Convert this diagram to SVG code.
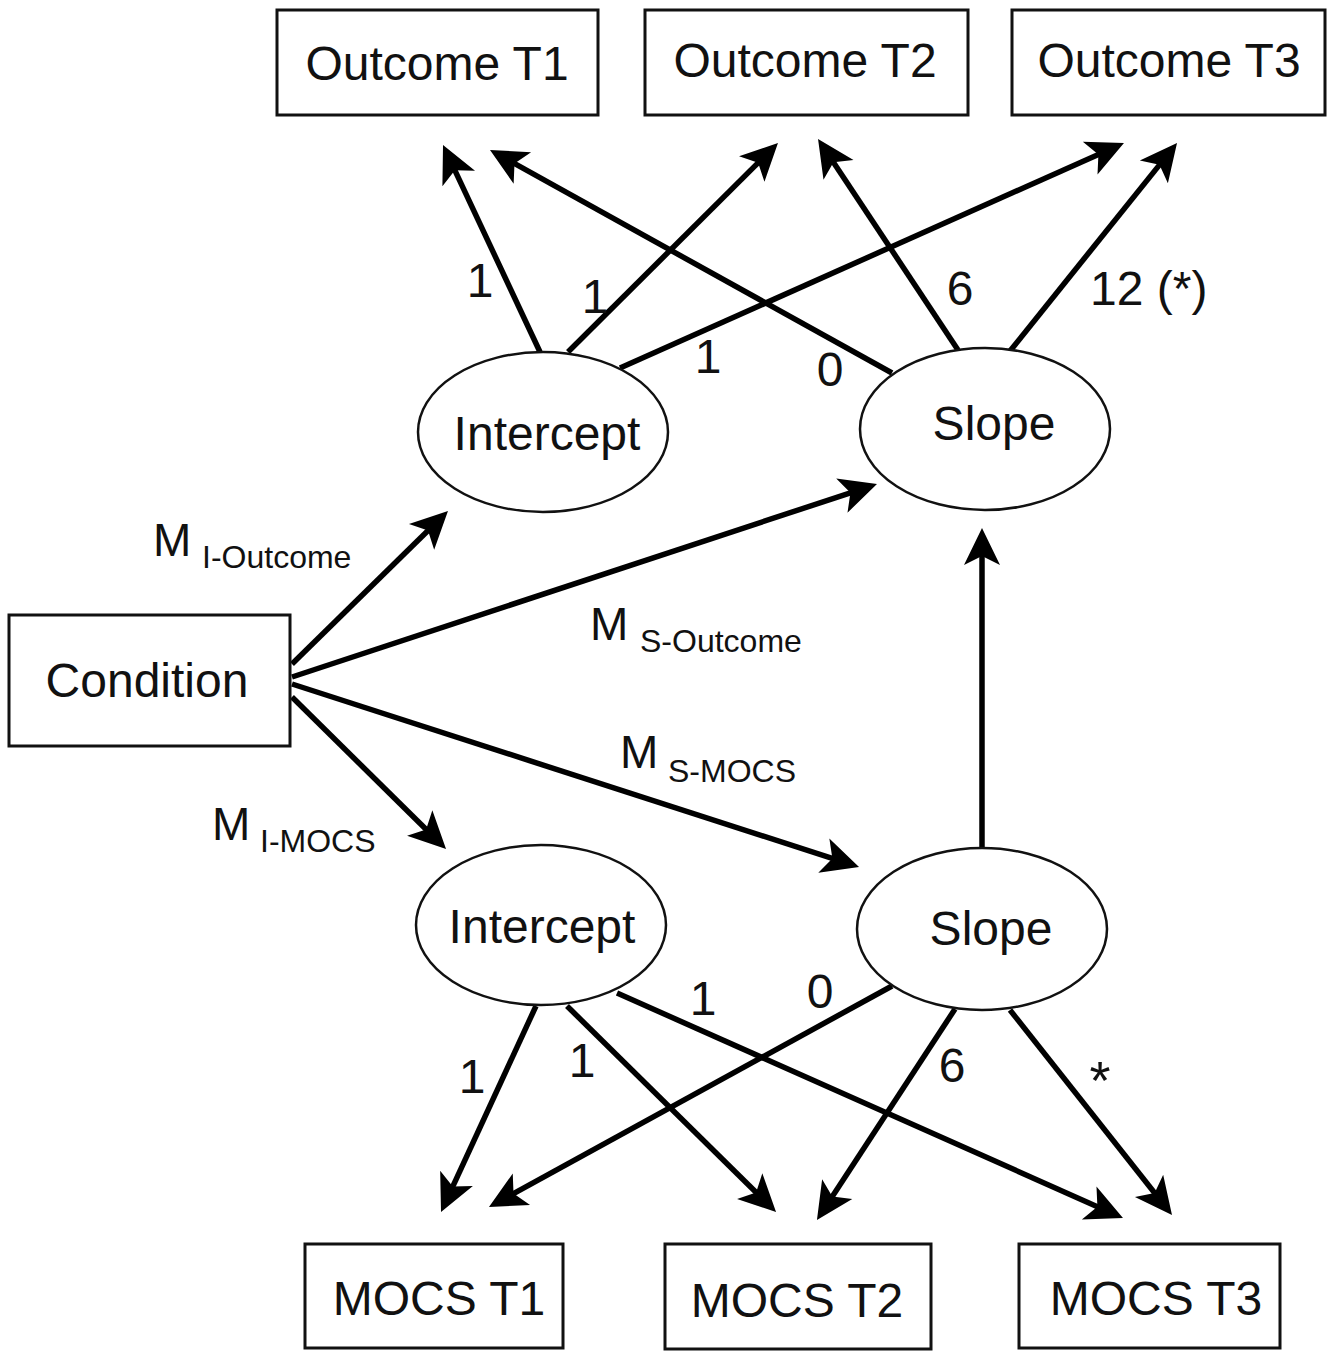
<svg xmlns="http://www.w3.org/2000/svg" width="1334" height="1351" viewBox="0 0 1334 1351">
<style>
.box{fill:#fff;stroke:#111;stroke-width:3}
.ell{fill:#fff;stroke:#111;stroke-width:2.5}
.nt{font-family:"Liberation Sans",Arial,sans-serif;font-size:48px;fill:#111;text-anchor:middle}
.lb{font-family:"Liberation Sans",Arial,sans-serif;font-size:48px;fill:#111;text-anchor:middle}
.m{font-family:"Liberation Sans",Arial,sans-serif;font-size:46px;fill:#111}
.sub{font-family:"Liberation Sans",Arial,sans-serif;font-size:32px;fill:#111}
.c{fill:none;stroke:#000;stroke-width:5.5;marker-end:url(#ah)}
</style>
<defs>
<marker id="ah" markerUnits="userSpaceOnUse" orient="auto" markerWidth="80" markerHeight="80" refX="0" refY="0" viewBox="-40 -40 80 80" overflow="visible">
<path d="M20,0 L-17,-18 L-8,0 L-17,18 Z" fill="#000"/>
</marker>
</defs>
<rect width="1334" height="1351" fill="#fff"/>
<g id="connectors">
<path class="c" d="M540,352 L451.5,163.1"/>
<path class="c" d="M892,373 L507.5,159.7"/>
<path class="c" d="M568,352 L763.8,157.1"/>
<path class="c" d="M620,368 L1105.7,151.2"/>
<path class="c" d="M958,350 L829.1,155.7"/>
<path class="c" d="M1010,351 L1164.5,158.6"/>
<path class="c" d="M292,664 L433.7,525"/>
<path class="c" d="M292,677 L858,490.3"/>
<path class="c" d="M292,684 L840,860.9"/>
<path class="c" d="M292,697 L431.8,835"/>
<path class="c" d="M982,848 L982,548"/>
<path class="c" d="M536,1006 L449.4,1193.8"/>
<path class="c" d="M567,1006 L761.8,1198"/>
<path class="c" d="M617,993 L1104.7,1209.9"/>
<path class="c" d="M892,986 L506.5,1197.4"/>
<path class="c" d="M955,1009 L827.9,1203.3"/>
<path class="c" d="M1010,1010 L1159.6,1199.3"/>
</g>
<g id="labels">
<text class="lb" x="480" y="297">1</text>
<text class="lb" x="595" y="313">1</text>
<text class="lb" x="708" y="373">1</text>
<text class="lb" x="830" y="386">0</text>
<text class="lb" x="960" y="305">6</text>
<text class="lb" x="1090" y="305" style="text-anchor:start">12 (*)</text>
<text class="lb" x="472" y="1093">1</text>
<text class="lb" x="582" y="1077">1</text>
<text class="lb" x="703" y="1015">1</text>
<text class="lb" x="820" y="1008">0</text>
<text class="lb" x="952" y="1082">6</text>
<text class="lb" x="1100" y="1099" style="font-size:54px">*</text>
<text class="m" x="153" y="556">M</text><text class="sub" x="202" y="568">I-Outcome</text>
<text class="m" x="590" y="640">M</text><text class="sub" x="640" y="652">S-Outcome</text>
<text class="m" x="620" y="768">M</text><text class="sub" x="668" y="782">S-MOCS</text>
<text class="m" x="212" y="840">M</text><text class="sub" x="260" y="852">I-MOCS</text>
</g>
<g id="outcome-t1"><rect class="box" x="277" y="10" width="321" height="105"/><text class="nt" x="437" y="80">Outcome T1</text></g>
<g id="outcome-t2"><rect class="box" x="645" y="10" width="323" height="105"/><text class="nt" x="805" y="77">Outcome T2</text></g>
<g id="outcome-t3"><rect class="box" x="1012" y="10" width="313" height="105"/><text class="nt" x="1169" y="77">Outcome T3</text></g>
<g id="intercept-outcome"><ellipse class="ell" cx="543" cy="432" rx="125" ry="80"/><text class="nt" x="547" y="450">Intercept</text></g>
<g id="slope-outcome"><ellipse class="ell" cx="985" cy="429" rx="125" ry="81"/><text class="nt" x="994" y="440">Slope</text></g>
<g id="condition"><rect class="box" x="9" y="615" width="281" height="131"/><text class="nt" x="147" y="697">Condition</text></g>
<g id="intercept-mocs"><ellipse class="ell" cx="541" cy="925" rx="125" ry="80"/><text class="nt" x="542" y="943">Intercept</text></g>
<g id="slope-mocs"><ellipse class="ell" cx="982" cy="929" rx="125" ry="81"/><text class="nt" x="991" y="945">Slope</text></g>
<g id="mocs-t1"><rect class="box" x="305" y="1244" width="258" height="104"/><text class="nt" x="439" y="1315">MOCS T1</text></g>
<g id="mocs-t2"><rect class="box" x="665" y="1244" width="266" height="105"/><text class="nt" x="797" y="1317">MOCS T2</text></g>
<g id="mocs-t3"><rect class="box" x="1019" y="1244" width="261" height="104"/><text class="nt" x="1156" y="1315">MOCS T3</text></g>
</svg>
